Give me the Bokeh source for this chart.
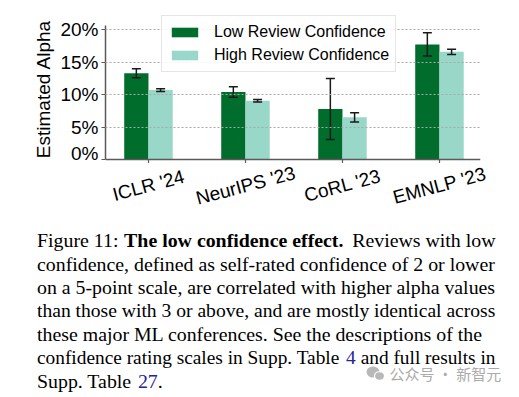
import numpy as np
from bokeh.plotting import figure
from bokeh.layouts import column
from bokeh.models import Range1d, FixedTicker, PrintfTickFormatter, Legend
from bokeh.core.properties import value
from bokeh.embed import file_html
from bokeh.resources import INLINE

# ---------------- data ----------------
conferences = ["ICLR '24", "NeurIPS '23", "CoRL '23", "EMNLP '23"]
low_conf = [13.3, 10.4, 7.8, 17.75]
low_err = [0.7, 0.8, 4.7, 1.8]
high_conf = [10.7, 9.05, 6.5, 16.6]
high_err = [0.2, 0.2, 0.7, 0.4]
y_ticks = [0, 5, 10, 15, 20]
series_labels = ["Low Review Confidence", "High Review Confidence"]

caption_lines = [
    [("Figure 11:", "normal"), ("The low confidence effect.", "bold"), ("Reviews with low", "normal")],
    [("confidence, defined as self-rated confidence of 2 or lower", "normal")],
    [("on a 5-point scale, are correlated with higher alpha values", "normal")],
    [("than those with 3 or above, and are mostly identical across", "normal")],
    [("these major ML conferences.  See the descriptions of the", "normal")],
    [("confidence rating scales in Supp. Table", "normal"), ("4", "link"), ("and full results in", "normal")],
    [("Supp. Table", "normal"), ("27", "link"), (".", "normal")],
]
watermark = "公众号 · 新智元"

# ---------------- style ----------------
DARK = "#006d2c"
LIGHT = "#99d8c9"
LINK = "#23239a"
SANS = "Liberation Sans"
SERIF = "Liberation Serif"
W, H = 519, 397
FL, FR, FT, Y0 = 105, 480, 14, 159      # frame edges and zero line (page px)
H1 = 163                                 # height of the bar-chart canvas
XS, XE = -0.443, 3.423
PPC = (Y0 - 29.3) / 20.0                 # px per percent

p = figure(width=W, height=H1, output_backend="svg", toolbar_location=None, tools="",
           x_range=Range1d(XS, XE), y_range=Range1d(-(H1 - Y0) / PPC, (Y0 - FT) / PPC),
           min_border_left=FL, min_border_right=W - FR, min_border_top=FT,
           min_border_bottom=0)
p.outline_line_color = None
if "frame_align" in p.properties():
    p.frame_align = False

idx = np.arange(len(conferences))
bw = 0.25
xl = idx - bw / 2
xh = idx + bw / 2
lo = np.array(low_conf); le = np.array(low_err)
hi = np.array(high_conf); he = np.array(high_err)

r1 = p.vbar(x=xl, top=lo, width=bw, fill_color=DARK, line_color=None)
r2 = p.vbar(x=xh, top=hi, width=bw, fill_color=LIGHT, line_color=None)

ERR = "#1a1a1a"
for xs, v, e in ((xl, lo, le), (xh, hi, he)):
    p.segment(x0=xs, y0=v - e, x1=xs, y1=v + e, line_color=ERR, line_width=1.5)
    p.scatter(x=xs, y=v + e, marker="dash", size=9, line_color=ERR, line_width=1.5)
    p.scatter(x=xs, y=v - e, marker="dash", size=9, line_color=ERR, line_width=1.5)

for ax in (p.xaxis[0], p.yaxis[0]):
    ax.axis_line_color = "#5a5a5a"
    ax.axis_line_width = 1.5
    ax.major_tick_line_color = "#5a5a5a"
    ax.major_tick_line_width = 1.2
    ax.major_tick_out = 4
    ax.major_tick_in = 0
    ax.minor_tick_line_color = None
    ax.major_label_text_font = SANS
    ax.major_label_text_font_size = "19px"
    ax.major_label_text_color = "black"

p.yaxis.ticker = FixedTicker(ticks=y_ticks)
p.yaxis.formatter = PrintfTickFormatter(format="%d%%")
p.yaxis.bounds = (0, 20 + (29.3 - 25) / PPC)
p.yaxis.axis_label = "Estimated Alpha"
p.yaxis.axis_label_text_font = SANS
p.yaxis.axis_label_text_font_size = "19px"
p.yaxis.axis_label_text_font_style = "normal"
p.yaxis.axis_label_text_color = "black"
p.yaxis.axis_label_standoff = 3
p.yaxis.major_label_standoff = 3

p.xaxis.ticker = FixedTicker(ticks=list(idx))
p.xaxis.fixed_location = 0
p.xaxis.major_label_text_color = None   # category names are drawn centred below
p.xaxis.major_label_standoff = 0

p.xgrid.visible = False
p.ygrid.ticker = FixedTicker(ticks=y_ticks[1:])
p.ygrid.grid_line_color = "#a8a8a8"
p.ygrid.grid_line_dash = "2 2"
p.ygrid.grid_line_width = 1
p.ygrid.level = "guide"

legend = Legend(items=[(series_labels[0], [r1]), (series_labels[1], [r2])],
                location=(161 - FL, H1 - 68 - 4))
legend.label_text_font = SANS
legend.label_text_font_size = "16px"
legend.label_text_color = "black"
legend.glyph_width = 33
legend.glyph_height = 12
legend.label_standoff = 13
legend.label_height = 20
legend.spacing = 3
legend.padding = 6
legend.margin = 0
legend.border_line_color = "#cccccc"
legend.border_line_width = 1
legend.background_fill_alpha = 0.85
p.add_layout(legend, "center")

# ---------------- lower panel: category labels + caption (page-pixel coordinates) ----------------
H2 = H - H1
ppu = (FR - FL) / (XE - XS)
q = figure(width=W, height=H2, output_backend="svg", toolbar_location=None, tools="",
           x_range=Range1d(0, W), y_range=Range1d(H, H1),
           x_axis_type=None, y_axis_type=None,
           min_border_left=0, min_border_right=0, min_border_top=0, min_border_bottom=0)
q.outline_line_color = None
q.xgrid.visible = False
q.ygrid.visible = False
if "frame_align" in q.properties():
    q.frame_align = False
q.extra_x_ranges = {"cat": Range1d(XS - FL / ppu, XE + (W - FR) / ppu)}

q.text(x=idx, y=[185] * len(idx), text=conferences, x_range_name="cat",
       angle=0.26, text_align="center", text_baseline="middle",
       text_font=value(SANS), text_font_size="19px", text_color="black")

# Times / Liberation Serif advance widths (per 1000 em)
TW = {" ": 250, ",": 250, "-": 333, ".": 250, ":": 278, "'": 180}
TW.update({d: 500 for d in "0123456789"})
TW.update(dict(F=556, L=611, M=889, R=667, S=556, T=611))
TW.update(dict(zip("abcdefghijklmnopqrstuvwxyz",
                   [444, 500, 444, 500, 444, 333, 500, 500, 278, 278, 500, 278, 778,
                    500, 500, 500, 500, 333, 389, 278, 500, 500, 722, 500, 500, 444])))
TB = dict(TW)
TB.update(dict(T=667, a=500, d=556, h=556, n=556, t=333))

def em(s, bold=False):
    t = TB if bold else TW
    return sum(t.get(c, 500) for c in s) / 1000.0

CL, CR = 36.5, 495.0
FS_MAX = 19.85
BASE0, STEP = 239.8, 23.5
last = len(caption_lines) - 1
for k, segs in enumerate(caption_lines):
    yb = BASE0 + k * STEP
    n = len(segs)
    gaps = [0.0 if (j + 1 < n and segs[j + 1][0] == ".") else em(" ") for j in range(n)]
    total = sum(em(t, s == "bold") for t, s in segs) + sum(gaps[:-1])
    fs = FS_MAX if k == last else min(FS_MAX, (CR - CL) / total)
    xcur = CL
    for j, (txt, sty) in enumerate(segs):
        bold = sty == "bold"
        col = LINK if sty == "link" else "black"
        if n > 1 and j == n - 1 and k != last:
            xx, al = CR, "right"
        else:
            xx, al = xcur, "left"
        q.text(x=[xx], y=[yb], text=[txt], text_align=al, text_baseline="alphabetic",
               text_font=value(SERIF), text_font_size=f"{fs:.2f}px",
               text_font_style="bold" if bold else "normal", text_color=col)
        xcur = xx + (em(txt, bold) + gaps[j]) * fs

# watermark
q.ellipse(x=[372.5], y=[371.5], width=13, height=11, fill_color="#b8b8b8", line_color=None)
q.ellipse(x=[379], y=[375.5], width=10, height=8.5, fill_color="#b8b8b8", line_color="white",
          line_width=1.2)
q.text(x=[389], y=[372.7], text=[watermark], text_align="left", text_baseline="middle",
       text_font=value("Noto Sans CJK SC"), text_font_size="15px", text_color="#ababab")

layout = column(p, q, spacing=0)
open("out.html", "w").write(file_html(layout, INLINE))
